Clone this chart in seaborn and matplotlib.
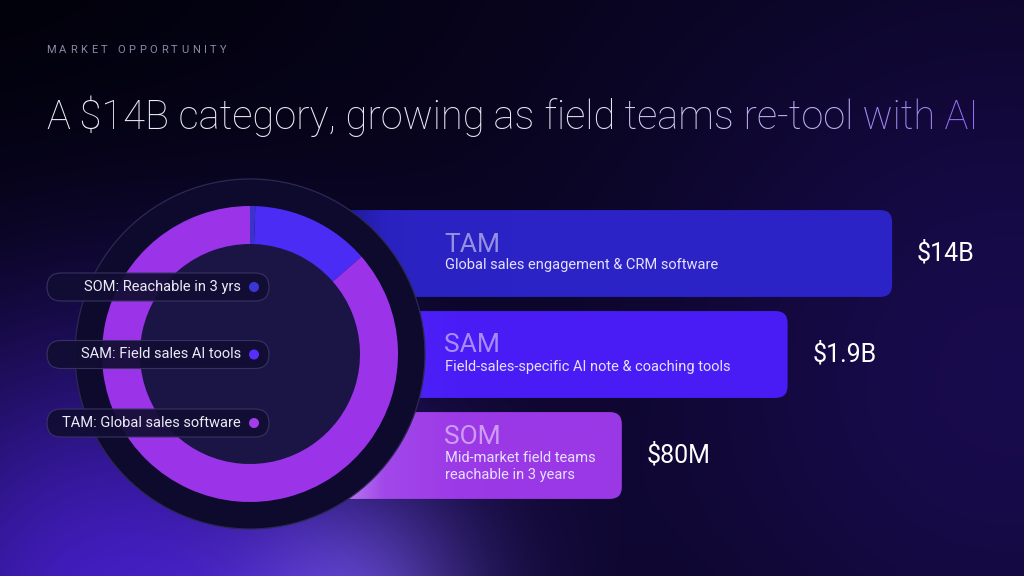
import numpy as np
import matplotlib
matplotlib.use("Agg")
import matplotlib.pyplot as plt
from matplotlib.patches import FancyBboxPatch, Circle
from matplotlib.colors import LinearSegmentedColormap
import seaborn as sns

# ---- data ----
segments = ["TAM", "SAM", "SOM"]
values_musd = [14000, 1900, 80]          # market size, $M
value_labels = ["$14B", "$1.9B", "$80M"]
descriptions = ["Global sales engagement & CRM software",
                "Field-sales-specific AI note & coaching tools",
                "Mid-market field teams\nreachable in 3 years"]
legend_labels = ["SOM: Reachable in 3 yrs",
                 "SAM: Field sales AI tools",
                 "TAM: Global sales software"]
kicker = "MARKET OPPORTUNITY"
title = "A $14B category, growing as field teams re-tool with AI"

seg_colors = {"TAM": "#9b34e8", "SAM": "#4b2cf4", "SOM": "#3a34c8"}
dot_colors = {"TAM": "#a33de9", "SAM": "#5a2dff", "SOM": "#3d36d6"}
bar_grads = {"TAM": ["#1a168a", "#2a22c0", "#2b22c4", "#2c23c6"],
             "SAM": ["#7a62ff", "#4d22f8", "#4a1df6", "#4a1cf5"],
             "SOM": ["#c08af2", "#a248ea", "#9c3ae7", "#9a38e6"]}

sns.set_theme(style="dark")
plt.rcParams["font.family"] = ["Roboto", "DejaVu Sans"]

W, H = 1024, 576
fig = plt.figure(figsize=(W / 100, H / 100), dpi=100)

# background
bg = fig.add_axes([0, 0, 1, 1])
bg.set_xlim(0, W); bg.set_ylim(H, 0); bg.axis("off")
yy, xx = np.mgrid[0:H, 0:W].astype(float)
img = np.zeros((H, W, 3)) + np.array([7, 4, 26]) / 255


def glow(cx, cy, r, col, k):
    d2 = ((xx - cx) ** 2 + (yy - cy) ** 2) / r ** 2
    return np.exp(-d2)[..., None] * (np.array(col) / 255) * k


img += glow(120, 620, 290, (64, 28, 180), 0.95)
img += glow(360, 610, 120, (80, 70, 120), 0.7)
img += glow(1010, 380, 400, (22, 9, 64), 0.8)
img -= glow(0, 0, 380, (6, 3, 16), 1.0)
bg.imshow(np.clip(img, 0, 1), extent=(0, W, H, 0), aspect="auto", zorder=0)

# bars: log-scaled length, decades above $0.1M
PX_PER_DEC = 120.5
bx0 = 272
bar_top, bar_bot = 203, 506
bax = fig.add_axes([bx0 / W, (H - bar_bot) / H, (W - bx0) / W, (bar_bot - bar_top) / H])
decades = np.log10(np.array(values_musd) * 10)
sns.barplot(x=decades, y=segments, orient="h", width=0.86, ax=bax)
bax.set_xlim(0, (W - bx0) / PX_PER_DEC)
bax.set_ylim(2.5, -0.5)
bax.axis("off")

for p in bax.patches:
    p.set_visible(False)
    i = int(round(p.get_y() + p.get_height() / 2))
    seg = segments[i]
    (dx0, dy0), (dx1, dy1) = bax.transData.transform(
        [(p.get_x(), p.get_y()), (p.get_x() + p.get_width(), p.get_y() + p.get_height())])
    x0, x1 = min(dx0, dx1), max(dx0, dx1)
    y0, y1 = H - max(dy0, dy1), H - min(dy0, dy1)
    box = FancyBboxPatch((x0, y0), x1 - x0, y1 - y0,
                         boxstyle="round,pad=0,rounding_size=12",
                         fc="none", ec="none", zorder=2)
    bg.add_patch(box)
    cmap = LinearSegmentedColormap.from_list(seg, list(zip([0, 0.3, 0.7, 1], bar_grads[seg])))
    px = x0 + np.linspace(0, 1, 256)[None, :] * (x1 - x0)
    t = np.clip((px - 330) / 180, 0, 1)
    im = bg.imshow(cmap(t)[..., :3], extent=(x0, x1, y1, y0), aspect="auto",
                   interpolation="bilinear", zorder=2)
    im.set_clip_path(box)

    cy = (y0 + y1) / 2
    n = descriptions[i].count("\n") + 1
    ly = cy - 9 - 9.5 * (n - 1)
    bg.text(444, ly, seg, fontsize=19, color="white", alpha=0.5,
            va="center", ha="left", zorder=5)
    bg.text(445, ly + 14, descriptions[i], fontsize=10.5, color="#e4e0ff",
            va="top", ha="left", linespacing=1.3, zorder=5)
    bg.text(x1 + 25, cy, value_labels[i], fontsize=18, color="white",
            va="center", ha="left", zorder=5)

# dark disk behind ring
cx, cy = 250, 354
bg.add_patch(Circle((cx, cy), 175, fc="#0e0a2e", ec="#2c2854", lw=0.9, zorder=3))
bg.add_patch(Circle((cx, cy), 111, fc="#1a1544", ec="none", zorder=3))

# ring
r_out = 148
pax = fig.add_axes([(cx - r_out) / W, (H - cy - r_out) / H, 2 * r_out / W, 2 * r_out / H])
ring_vals = [values_musd[2], values_musd[1] - values_musd[2], values_musd[0] - values_musd[1]]
pax.pie(ring_vals, colors=[seg_colors["SOM"], seg_colors["SAM"], seg_colors["TAM"]],
        startangle=90, counterclock=False, radius=1,
        wedgeprops=dict(width=38 / r_out, linewidth=0))
pax.set_xlim(-1, 1); pax.set_ylim(-1, 1)
pax.axis("off")

# overlay: legend pills and titles
top = fig.add_axes([0, 0, 1, 1])
top.set_xlim(0, W); top.set_ylim(H, 0); top.axis("off")
top.patch.set_alpha(0)
pill_y = [287, 354.5, 423]
for lab, py in zip(legend_labels, pill_y):
    seg = lab.split(":")[0]
    top.add_patch(FancyBboxPatch((47, py - 14), 222, 28,
                                 boxstyle="round,pad=0,rounding_size=14",
                                 fc="#110d33", ec="#3a3664", lw=0.8, alpha=0.92))
    top.text(241, py, lab, fontsize=10.5, color="#eceaf6", ha="right", va="center")
    top.add_patch(Circle((254, py), 5, fc=dot_colors[seg], ec="none"))

renderer = fig.canvas.get_renderer()

# kicker with letter spacing
prev = top.text(46, 55, kicker[0], fontsize=8, color="#8c88a6", va="bottom")
for ch in kicker[1:]:
    prev = top.annotate(ch, xycoords=prev, xy=(1, 0), xytext=(2.6, 0),
                        textcoords="offset points", fontsize=8, color="#8c88a6", va="bottom")

# title with colour gradient across words
TW = 100
probe = top.text(0, 0, title, fontsize=26, fontweight=TW)
tw = probe.get_window_extent(renderer).width
probe.remove()
tsize = 26 * 934 / tw
tcmap = LinearSegmentedColormap.from_list(
    "title", [(0, "#efeef6"), (0.5, "#e8e6f4"), (0.78, "#b3a6f0"), (1, "#8a68f6")])
words = title.split(" ")
pos = np.cumsum([0] + [len(w) + 1 for w in words[:-1]]) / len(title)
prev = top.text(46, 137, words[0], fontsize=tsize, fontweight=TW,
                color=tcmap(pos[0]), va="bottom")
for w, f in zip(words[1:], pos[1:]):
    prev = top.annotate(" " + w, xycoords=prev, xy=(1, 0), fontsize=tsize,
                        fontweight=TW, color=tcmap(f), va="bottom")

fig.savefig("out.png", dpi=100)
